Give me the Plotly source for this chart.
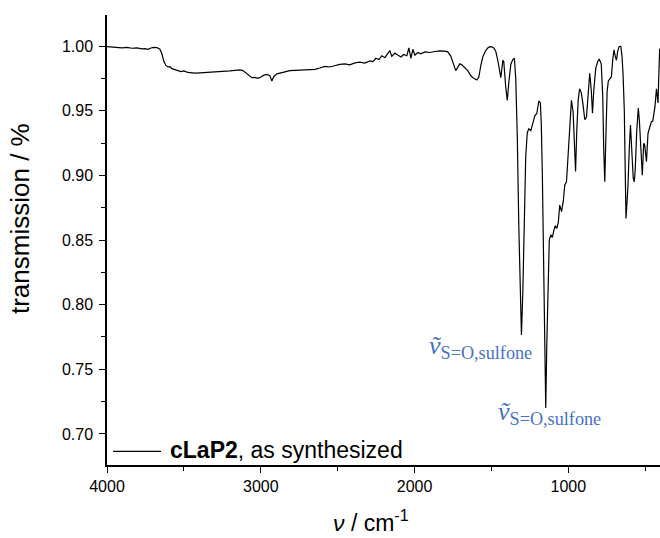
import plotly.graph_objects as go

# Wavenumber (cm^-1) and transmission
wavenumber = [
    4000, 3968, 3935, 3903, 3870, 3838, 3805, 3773, 3753, 3734, 3714, 3695, 3675, 3656,
    3643, 3630, 3617, 3604, 3591, 3578, 3558, 3539, 3519, 3500, 3480, 3461, 3428, 3396,
    3363, 3331, 3298, 3266, 3233, 3201, 3168, 3136, 3116, 3097, 3077, 3058, 3038, 3019,
    2999, 2980, 2960, 2941, 2928, 2915, 2895, 2869, 2843, 2811, 2778, 2746, 2713, 2681,
    2648, 2616, 2583, 2551, 2518, 2486, 2453, 2421, 2388, 2356, 2323, 2291, 2271, 2252,
    2232, 2213, 2193, 2174, 2161, 2148, 2128, 2109, 2089, 2070, 2050, 2037, 2024, 2011,
    1998, 1979, 1959, 1933, 1901, 1868, 1836, 1803, 1784, 1764, 1745, 1732, 1719, 1706,
    1693, 1673, 1654, 1634, 1615, 1595, 1582, 1569, 1556, 1537, 1524, 1511, 1498, 1485,
    1472, 1459, 1446, 1439, 1426, 1420, 1407, 1397, 1387, 1374, 1361, 1351, 1342, 1332,
    1322, 1312, 1305, 1296, 1286, 1277, 1267, 1257, 1244, 1231, 1218, 1205, 1192, 1182,
    1176, 1169, 1163, 1153, 1147, 1140, 1130, 1124, 1114, 1104, 1095, 1085, 1075, 1065,
    1056, 1044, 1033, 1023, 1012, 1004, 995, 987, 980, 969, 961, 953, 945, 936,
    927, 916, 906, 893, 882, 870, 861, 851, 843, 835, 822, 809, 799, 786,
    776, 770, 763, 757, 748, 740, 731, 720, 711, 703, 695, 687, 679, 670,
    659, 651, 644, 636, 631, 625, 618, 612, 604, 596, 590, 583, 578, 571,
    565, 555, 545, 538, 529, 519, 510, 503, 492, 482, 471, 460, 451, 445,
    437, 427, 422, 417, 411, 406,
]
transmission = [
    0.9995, 0.9992, 0.9990, 0.9985, 0.9989, 0.9983, 0.9986, 0.9978, 0.9980, 0.9975, 0.9985, 0.9990, 0.9988, 0.9975,
    0.9940, 0.9880, 0.9850, 0.9838, 0.9840, 0.9825, 0.9818, 0.9812, 0.9803, 0.9808, 0.9798, 0.9795, 0.9790, 0.9793,
    0.9795, 0.9800, 0.9798, 0.9803, 0.9805, 0.9808, 0.9812, 0.9815, 0.9810, 0.9790, 0.9768, 0.9755, 0.9758, 0.9750,
    0.9760, 0.9775, 0.9780, 0.9770, 0.9730, 0.9765, 0.9785, 0.9795, 0.9800, 0.9810, 0.9812, 0.9813, 0.9814, 0.9814,
    0.9820, 0.9830, 0.9842, 0.9838, 0.9850, 0.9858, 0.9862, 0.9855, 0.9870, 0.9875, 0.9868, 0.9885, 0.9880, 0.9905,
    0.9895, 0.9925, 0.9910, 0.9940, 0.9965, 0.9920, 0.9945, 0.9930, 0.9915, 0.9935, 0.9925, 0.9985, 0.9905, 0.9975,
    0.9930, 0.9950, 0.9940, 0.9955, 0.9950, 0.9958, 0.9962, 0.9960, 0.9955, 0.9920, 0.9850, 0.9810, 0.9835, 0.9862,
    0.9855, 0.9830, 0.9810, 0.9770, 0.9750, 0.9737, 0.9760, 0.9850, 0.9917, 0.9965, 0.9985, 0.9995, 0.9993, 0.9985,
    0.9960, 0.9890, 0.9780, 0.9755, 0.9890, 0.9880, 0.9680, 0.9580, 0.9720, 0.9860, 0.9895, 0.9905, 0.9750, 0.9300,
    0.8600, 0.8000, 0.7765, 0.8100, 0.8800, 0.9150, 0.9330, 0.9360, 0.9345, 0.9400, 0.9460, 0.9480, 0.9575, 0.9560,
    0.9400, 0.9000, 0.8400, 0.7600, 0.7200, 0.7700, 0.8300, 0.8500, 0.8540, 0.8520, 0.8570, 0.8610, 0.8590, 0.8640,
    0.8770, 0.8720, 0.8800, 0.8925, 0.8950, 0.9100, 0.9310, 0.9500, 0.9580, 0.9490, 0.9250, 0.9030, 0.9350, 0.9580,
    0.9670, 0.9640, 0.9560, 0.9430, 0.9450, 0.9650, 0.9790, 0.9660, 0.9480, 0.9650, 0.9827, 0.9880, 0.9900, 0.9860,
    0.9600, 0.9200, 0.8950, 0.9250, 0.9647, 0.9730, 0.9750, 0.9763, 0.9900, 0.9970, 0.9920, 0.9890, 0.9960, 0.9995,
    0.9998, 0.9920, 0.9776, 0.9500, 0.9100, 0.8667, 0.8800, 0.8925, 0.9200, 0.9390, 0.9250, 0.9080, 0.8977, 0.8950,
    0.9050, 0.9350, 0.9520, 0.9420, 0.9200, 0.9000, 0.9248, 0.9234, 0.9105, 0.9325, 0.9370, 0.9415, 0.9420, 0.9466,
    0.9530, 0.9670, 0.9600, 0.9560, 0.9800, 0.9980,
]

series_name = "<b>cLaP2</b>, as synthesized"
peak_label = "<i>ṽ</i><sub>S=O,sulfone</sub>"
peak_positions = [1916, 1468]
peak_label_y = [0.767, 0.716]

x_ticks = [4000, 3000, 2000, 1000]
y_ticks = [0.70, 0.75, 0.80, 0.85, 0.90, 0.95, 1.00]

SANS = "Liberation Sans, Arial, sans-serif"
SERIF = "Liberation Serif, DejaVu Serif, serif"
BLUE = "#4472C4"

fig = go.Figure()
fig.add_trace(go.Scatter(
    x=wavenumber, y=transmission, mode="lines",
    line=dict(color="black", width=1.2), showlegend=False,
))

fig.update_layout(
    width=660, height=538,
    margin=dict(l=107, r=0, t=15, b=73),
    paper_bgcolor="white", plot_bgcolor="white",
    font=dict(family=SANS, color="black", size=16),
    xaxis=dict(
        range=[4000, 404], tickvals=x_ticks, ticktext=[str(v) for v in x_ticks],
        showgrid=False, zeroline=False, showline=True, linecolor="black", linewidth=1.5,
        ticks="outside", ticklen=6, tickwidth=1.3, tickcolor="black",
        tickfont=dict(size=16, family=SANS),
        minor=dict(dtick=500, tick0=0, ticks="outside", ticklen=4, tickwidth=1.3, tickcolor="black", showgrid=False),
    ),
    yaxis=dict(
        range=[0.676, 1.024], tickvals=y_ticks, ticktext=[f"{v:.2f}" for v in y_ticks],
        showgrid=False, zeroline=False, showline=True, linecolor="black", linewidth=1.5,
        ticks="outside", ticklen=6, tickwidth=1.3, tickcolor="black",
        tickfont=dict(size=16, family=SANS), ticklabelstandoff=3,
        minor=dict(dtick=0.025, tick0=0.0, ticks="outside", ticklen=4, tickwidth=1.3, tickcolor="black", showgrid=False),
    ),
)

# axis titles
fig.add_annotation(text="<i>ν</i> / cm<sup>-1</sup>", xref="paper", yref="paper",
                   x=0.477, y=-0.125, xanchor="center", yanchor="middle", showarrow=False,
                   font=dict(size=23, family=SANS))
fig.add_annotation(text="transmission / %", xref="paper", yref="paper", textangle=-90,
                   x=-0.157, y=0.547, xanchor="center", yanchor="middle", showarrow=False,
                   font=dict(size=26, family=SANS))

# legend
fig.add_shape(type="line", xref="x", yref="y", x0=3961, x1=3649, y0=0.6865, y1=0.6865,
              line=dict(color="black", width=1.2))
fig.add_annotation(text=series_name, xref="x", yref="y", x=3604, y=0.6875,
                   xanchor="left", yanchor="middle", showarrow=False,
                   font=dict(size=23, family=SANS))

# peak labels
for px, py in zip(peak_positions, peak_label_y):
    fig.add_annotation(text=peak_label, xref="x", yref="y", x=px, y=py,
                       xanchor="left", yanchor="middle", showarrow=False,
                       font=dict(size=26, family=SERIF, color=BLUE))

fig.write_html("out.html")
